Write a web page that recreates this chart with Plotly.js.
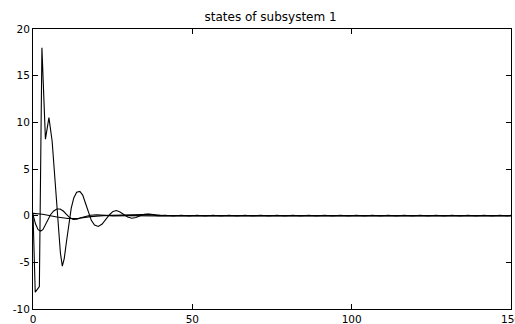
<!DOCTYPE html>
<html>
<head>
<meta charset="utf-8">
<script src="https://cdn.plot.ly/plotly-3.0.1.min.js"></script>
<style>html,body{margin:0;padding:0;background:#fff;overflow:hidden;}#chart{width:515px;height:324px;}</style>
</head>
<body>
<div id="chart"></div>
<script>
// state 1 (large oscillation)
const xA = [0,0.7,2,2.8,3.9,5,6,7,8,8.6,9.2,9.8,10.5,11.3,12,12.8,13.7,14.7,15.6,16.5,17.4,18.3,19.3,20.5,21.7,22.8,24,25.1,26.2,27.3,28.5,29.7,31,32.3,33.6,35,36.3,37.6,39,
  41.5,44,46.5,49,51.5,54,56.5,59,61.5,64,66.5,69,71.5,74,76.5,79,81.5,84,86.5,89,91.5,94,96.5,99,101.5,104,106.5,109,111.5,114,116.5,119,121.5,124,126.5,129,131.5,134,136.5,139,141.5,144,146.5,149,150];
const yA = [0.3,-8.2,-7.6,18,8.2,10.5,8.0,3.5,-1.5,-4.0,-5.4,-4.6,-2.8,-0.8,0.8,1.9,2.5,2.6,2.2,1.3,0.3,-0.5,-1.0,-1.15,-0.9,-0.4,0.1,0.45,0.55,0.4,0.1,-0.15,-0.28,-0.2,0,0.15,0.18,0.1,0,
  0.03,-0.03,0.03,-0.03,0.03,-0.03,0.03,-0.03,0.03,-0.03,0.03,-0.03,0.03,-0.03,0.03,-0.03,0.03,-0.03,0.03,-0.03,0.03,-0.03,0.03,-0.03,0.03,-0.03,0.03,-0.03,0.03,-0.03,0.03,-0.03,0.03,-0.03,0.03,-0.03,0.03,-0.03,0.03,-0.03,0.03,-0.03,0.03,-0.03,0.03,0];
// state 2 (medium oscillation)
const xB = [0,0.8,1.6,2.4,3.1,3.9,4.7,5.5,6.5,7.5,8.5,9.5,10.5,11.5,12.6,13.8,15,16.5,18,20,22,25,30,35,40,150];
const yB = [0.1,-0.9,-1.5,-1.65,-1.5,-1.0,-0.4,0.1,0.5,0.72,0.72,0.5,0.15,-0.2,-0.4,-0.38,-0.22,-0.06,0.05,0.1,0.06,-0.02,0,0.02,-0.02,-0.02];
// state 3 (small, slow)
const xC = [0,3,7.5,11,14,18,22,26,30,34,37,40,45,150];
const yC = [0.25,0.15,-0.15,-0.3,-0.3,-0.1,0,0.03,0.06,0.12,0.15,0.05,0.02,0.02];

const xTicks = [0,50,100,150];
const yTicks = [-10,-5,0,5,10,15,20];
const titleText = 'states of subsystem 1';

const line = {color:'#000', width:1.1};
const traces = [
  {x:xA, y:yA, mode:'lines', line:line, hoverinfo:'skip'},
  {x:xB, y:yB, mode:'lines', line:line, hoverinfo:'skip'},
  {x:xC, y:yC, mode:'lines', line:line, hoverinfo:'skip'}
];
const axisCommon = {
  showgrid:false, zeroline:false, showline:true, linecolor:'#000', linewidth:1,
  mirror:'ticks', ticks:'inside', ticklen:5, tickwidth:1, tickcolor:'#000',
  tickfont:{family:'DejaVu Sans', size:10.5, color:'#000'}, fixedrange:true,
  ticklabeloverflow:'allow'
};
const layout = {
  width:515, height:324,
  margin:{l:33, r:4, t:29, b:15, pad:0},
  paper_bgcolor:'#fff', plot_bgcolor:'#fff',
  showlegend:false,
  title:{text:titleText, font:{family:'DejaVu Sans', size:12, color:'#000'},
    x:0.497, xanchor:'center', xref:'paper', y:1-17/324, yanchor:'middle', yref:'container'},
  xaxis:Object.assign({}, axisCommon, {range:[0,150], tickmode:'array', tickvals:xTicks, ticktext:xTicks.map(String), ticklabelstandoff:0}),
  yaxis:Object.assign({}, axisCommon, {range:[-10,20], tickmode:'array', tickvals:yTicks, ticktext:yTicks.map(String), ticklabelstandoff:0})
};
Plotly.newPlot('chart', traces, layout, {displayModeBar:false, staticPlot:true});
</script>
</body>
</html>
